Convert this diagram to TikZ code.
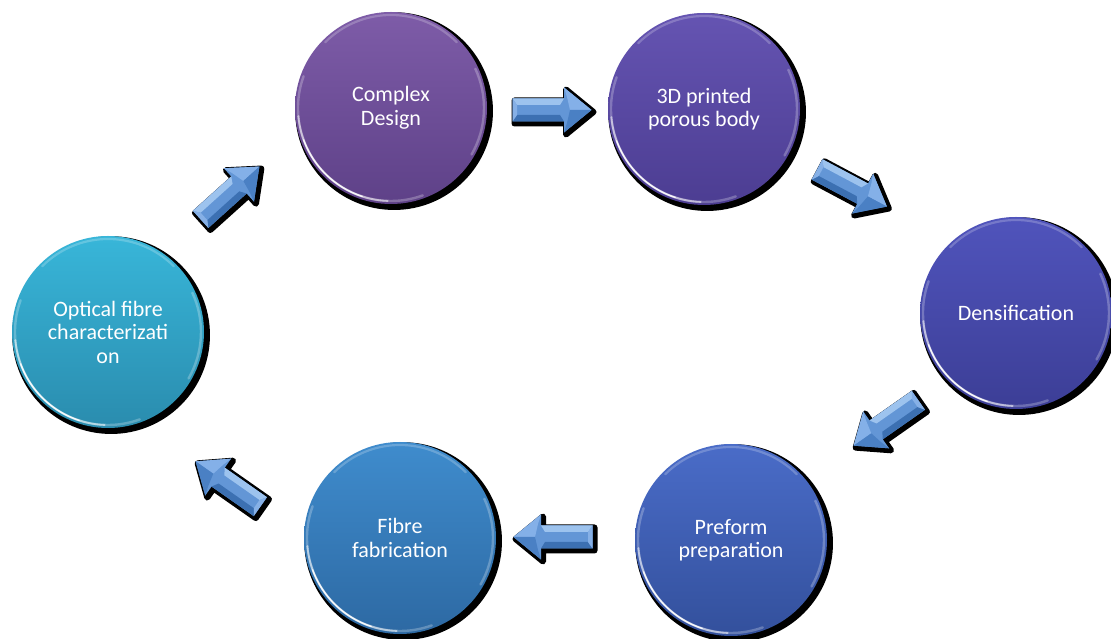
\documentclass[tikz,border=0pt]{standalone}
\usepackage{fontspec}
\setmainfont{Carlito}
\usetikzlibrary{shadows}
\definecolor{ctopA}{HTML}{7E5CA8}\definecolor{cbotA}{HTML}{5E4188}
\definecolor{ctopB}{HTML}{6554B2}\definecolor{cbotB}{HTML}{4C3D92}
\definecolor{ctopC}{HTML}{5054BC}\definecolor{cbotC}{HTML}{3C3E96}
\definecolor{ctopD}{HTML}{4A6CC8}\definecolor{cbotD}{HTML}{33509C}
\definecolor{ctopE}{HTML}{3F8CCD}\definecolor{cbotE}{HTML}{2D69A3}
\definecolor{ctopF}{HTML}{38B6D9}\definecolor{cbotF}{HTML}{2A8CAE}
\definecolor{arrmid}{HTML}{6396D6}
\definecolor{arrlight}{HTML}{9DC3EE}
\definecolor{arrdark}{HTML}{3C70B2}
\definecolor{arrtail}{HTML}{86B0E6}
\definecolor{arrhu}{HTML}{84B0E8}
\definecolor{arrhl}{HTML}{4A80C4}
\tikzset{
  stage/.style={circle, minimum size=192pt, inner sep=0pt, align=center,
    text=white, font=\fontsize{22}{23.5}\selectfont,
    general shadow={fill=black, shadow xshift=3pt, shadow yshift=-3pt, shadow scale=1.03}},
  rimA/.style={white, line width=2.4pt, opacity=0.25, line cap=round},
  rimB/.style={white, line width=1.8pt, opacity=0.55, line cap=round},
  rimC/.style={white, line width=1.3pt, opacity=0.9, line cap=round},
  rimT/.style={white, line width=2.2pt, opacity=0.22, line cap=round},
}
\newcommand\gloss[1]{%
  \draw[rimA] ([shift={(160:93)}]#1.center) arc[start angle=160, end angle=290, radius=93];
  \draw[rimB] ([shift={(185:93)}]#1.center) arc[start angle=185, end angle=268, radius=93];
  \draw[rimC] ([shift={(200:93)}]#1.center) arc[start angle=200, end angle=252, radius=93];
  \draw[rimT] ([shift={(45:93)}]#1.center) arc[start angle=45, end angle=135, radius=93];
  \draw[rimA] ([shift={(-30:93)}]#1.center) arc[start angle=-30, end angle=25, radius=93];
}
\newcommand\blockarrow[4]{% x y angle mirror
  \begin{scope}[shift={(#1+2,#2-2)}, rotate=#3]
    \fill[black, draw=black, line width=6pt, line join=round]
      (-39.5,11.5)--(12,11.5)--(12,22.5)--(39.5,0)--(12,-22.5)--(12,-11.5)--(-39.5,-11.5)--cycle;
  \end{scope}
  \begin{scope}[shift={(#1,#2)}, rotate=#3, yscale=#4]
    \fill[arrmid] (-39.5,11.5)--(12,11.5)--(12,22.5)--(39.5,0)--(12,-22.5)--(12,-11.5)--(-39.5,-11.5)--cycle;
    \fill[arrlight] (-39.5,11.5)--(12,11.5)--(8,5)--(-35,5)--cycle;
    \fill[arrdark] (-39.5,-11.5)--(12,-11.5)--(8,-5)--(-35,-5)--cycle;
    \fill[arrtail] (-39.5,11.5)--(-35,5)--(-35,-5)--(-39.5,-11.5)--cycle;
    \fill[arrhu] (12,22.5)--(39.5,0)--(18,0)--(15,13)--cycle;
    \fill[arrhl] (12,-22.5)--(39.5,0)--(18,0)--(15,-13)--cycle;
  \end{scope}}
\begin{document}
\begin{tikzpicture}[x=1pt, y=1pt]
  \fill[white] (0,0) rectangle (1111,639);
  \useasboundingbox (0,0) rectangle (1111,639);

  \node[stage, top color=ctopA, bottom color=cbotA] (c1) at (391,531) {Complex\\Design};
  \node[stage, top color=ctopB, bottom color=cbotB] (c2) at (704,530) {3D printed\\porous body};
  \node[stage, top color=ctopC, bottom color=cbotC] (c3) at (1016,326) {Densification};
  \node[stage, top color=ctopD, bottom color=cbotD] (c4) at (731,99) {Preform\\preparation};
  \node[stage, top color=ctopE, bottom color=cbotE] (c5) at (400,101) {Fibre\\fabrication};
  \node[stage, top color=ctopF, bottom color=cbotF] (c6) at (108,307) {Optical fibre\\characterizati\\on};

  \gloss{c1}\gloss{c2}\gloss{c3}\gloss{c4}\gloss{c5}\gloss{c6}

  \blockarrow{552}{529}{0}{1}
  \blockarrow{852}{451}{-28}{1}
  \blockarrow{886}{216}{215}{-1}
  \blockarrow{553}{102}{180}{-1}
  \blockarrow{228}{155}{145}{-1}
  \blockarrow{230}{446}{42}{1}
\end{tikzpicture}
\end{document}
